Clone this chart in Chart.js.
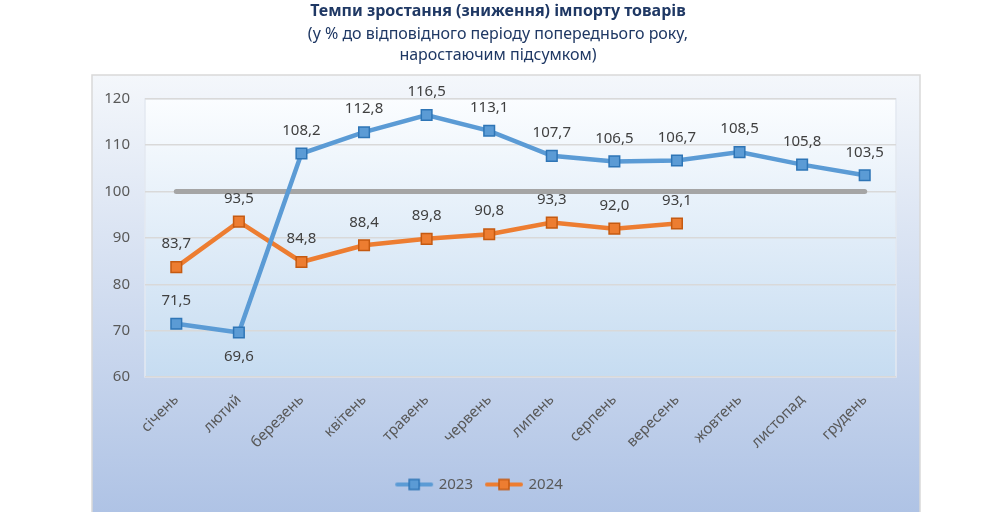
<!DOCTYPE html>
<html>
<head>
<meta charset="utf-8">
<script src="https://cdn.jsdelivr.net/npm/chart.js@4.4.1/dist/chart.umd.min.js"></script>
<style>
  html, body { margin: 0; padding: 0; background: #ffffff; }
  #wrap { width: 1007px; height: 512px; position: relative; }
</style>
</head>
<body>
<div id="wrap"><canvas id="importChart"></canvas></div>
<script>
var months = ['січень', 'лютий', 'березень', 'квітень', 'травень', 'червень',
              'липень', 'серпень', 'вересень', 'жовтень', 'листопад', 'грудень'];
var values2023 = [71.5, 69.6, 108.2, 112.8, 116.5, 113.1, 107.7, 106.5, 106.7, 108.5, 105.8, 103.5];
var values2024 = [83.7, 93.5, 84.8, 88.4, 89.8, 90.8, 93.3, 92.0, 93.1, null, null, null];
var baseline = [100, 100, 100, 100, 100, 100, 100, 100, 100, 100, 100, 100];
var yTicks = [60, 70, 80, 90, 100, 110, 120];

var FONT = '"Noto Sans", sans-serif';

// legend marker: line with a square in the middle
function legendIcon(line, fill, border) {
    var c = document.createElement('canvas');
    c.width = 40; c.height = 14;
    var ctx = c.getContext('2d');
    ctx.strokeStyle = line;
    ctx.lineWidth = 4;
    ctx.lineCap = 'round';
    ctx.beginPath();
    ctx.moveTo(3, 7); ctx.lineTo(37, 7);
    ctx.stroke();
    ctx.fillStyle = fill;
    ctx.fillRect(15, 2, 10, 10);
    ctx.strokeStyle = border;
    ctx.lineWidth = 1.5;
    ctx.strokeRect(15, 2, 10, 10);
    return c;
}

var backgroundPlugin = {
    id: 'backgrounds',
    afterLayout: function(chart) {
        // legend sits a little left of centre in the original
        if (chart.legend) {
            chart.legend.left -= 18;
            chart.legend.right -= 18;
        }
    },
    beforeDraw: function(chart) {
        var ctx = chart.ctx;
        var a = chart.chartArea;
        ctx.save();
        // outer chart box
        var g = ctx.createLinearGradient(0, 75, 0, 512);
        g.addColorStop(0, '#f4f7fb');
        g.addColorStop(1, '#afc3e5');
        ctx.fillStyle = g;
        ctx.fillRect(92, 75, 828, 440);
        ctx.strokeStyle = '#d9d9d9';
        ctx.lineWidth = 1.5;
        ctx.strokeRect(92, 75, 828, 440);
        // plot area
        var g2 = ctx.createLinearGradient(0, a.top, 0, a.bottom);
        g2.addColorStop(0, '#fbfdff');
        g2.addColorStop(1, '#c6dcf1');
        ctx.fillStyle = g2;
        ctx.fillRect(a.left, a.top, a.right - a.left, a.bottom - a.top);
        ctx.strokeStyle = '#e3e9f1';
        ctx.lineWidth = 1.5;
        ctx.strokeRect(a.left, a.top, a.right - a.left, a.bottom - a.top);
        ctx.restore();
    }
};

var valueLabelsPlugin = {
    id: 'valueLabels',
    afterDatasetsDraw: function(chart) {
        var ctx = chart.ctx;
        ctx.save();
        ctx.font = '15px ' + FONT;
        ctx.fillStyle = '#404040';
        ctx.textAlign = 'center';
        ctx.textBaseline = 'middle';
        chart.data.datasets.forEach(function(ds, i) {
            if (!ds.showValues) return;
            var meta = chart.getDatasetMeta(i);
            meta.data.forEach(function(pt, j) {
                var v = ds.data[j];
                if (v === null) return;
                var below = ds.labelBelow && ds.labelBelow.indexOf(j) >= 0;
                var y = below ? pt.y + 24 : pt.y - 23;
                ctx.fillText(v.toFixed(1).replace('.', ','), pt.x, y);
            });
        });
        ctx.restore();
    }
};

new Chart(document.getElementById('importChart'), {
    type: 'line',
    data: {
        labels: months,
        datasets: [{
            label: 'baseline',
            data: baseline,
            borderColor: '#a5a5a5',
            borderWidth: 5,
            pointRadius: 0,
            borderCapStyle: 'round',
            order: 3
        }, {
            label: '2023',
            data: values2023,
            borderColor: '#5b9bd5',
            backgroundColor: '#5b9bd5',
            pointBackgroundColor: '#5b9bd5',
            pointBorderColor: '#2e75b6',
            pointBorderWidth: 1.5,
            borderWidth: 4.5,
            pointStyle: 'rect',
            pointRadius: 7.5,
            showValues: true,
            labelBelow: [1],
            order: 1
        }, {
            label: '2024',
            data: values2024,
            borderColor: '#ed7d31',
            backgroundColor: '#ed7d31',
            pointBackgroundColor: '#ed7d31',
            pointBorderColor: '#c55a11',
            pointBorderWidth: 1.5,
            borderWidth: 4.5,
            pointStyle: 'rect',
            pointRadius: 7.5,
            showValues: true,
            order: 2
        }]
    },
    options: {
        responsive: true,
        maintainAspectRatio: false,
        animation: false,
        layout: { padding: { left: 100, right: 111, top: 0, bottom: 10 } },
        plugins: {
            title: {
                display: true,
                text: 'Темпи зростання (зниження) імпорту товарів',
                color: '#1f3864',
                font: { family: FONT, size: 16, weight: 'bold' },
                padding: { top: 2, bottom: 2 }
            },
            subtitle: {
                display: true,
                text: ['(у % до відповідного періоду попереднього року,', 'наростаючим підсумком)'],
                color: '#1f3864',
                font: { family: FONT, size: 16, lineHeight: 1.3 },
                padding: { top: 1, bottom: 33 }
            },
            legend: {
                position: 'bottom',
                labels: {
                    color: '#595959',
                    font: { family: FONT, size: 15 },
                    usePointStyle: true,
                    pointStyleWidth: 34,
                    padding: 14,
                    filter: function(item) { return item.text !== 'baseline'; },
                    generateLabels: function(chart) {
                        return chart.data.datasets.map(function(ds, i) {
                            return {
                                text: ds.label,
                                pointStyle: legendIcon(ds.borderColor, ds.pointBackgroundColor || ds.borderColor, ds.pointBorderColor || ds.borderColor),
                                fontColor: '#595959',
                                datasetIndex: i,
                                hidden: false,
                                lineWidth: 0,
                                strokeStyle: 'transparent',
                                fillStyle: 'transparent'
                            };
                        });
                    }
                }
            },
            tooltip: { enabled: false }
        },
        scales: {
            x: {
                offset: true,
                grid: { display: false },
                border: { display: false },
                ticks: {
                    color: '#595959',
                    font: { family: FONT, size: 15 },
                    minRotation: 45,
                    maxRotation: 45,
                    padding: 6
                },
                afterFit: function(scale) { scale.height = 86; }
            },
            y: {
                min: 60,
                max: 120,
                afterBuildTicks: function(scale) {
                    scale.ticks = yTicks.map(function(v) { return { value: v }; });
                },
                grid: { color: '#d9d9d9', lineWidth: 1.5, drawTicks: false },
                border: { display: false },
                ticks: {
                    color: '#595959',
                    font: { family: FONT, size: 15 },
                    padding: 15
                },
                afterFit: function(scale) { scale.width = 45; }
            }
        }
    },
    plugins: [backgroundPlugin, valueLabelsPlugin]
});
</script>
</body>
</html>
